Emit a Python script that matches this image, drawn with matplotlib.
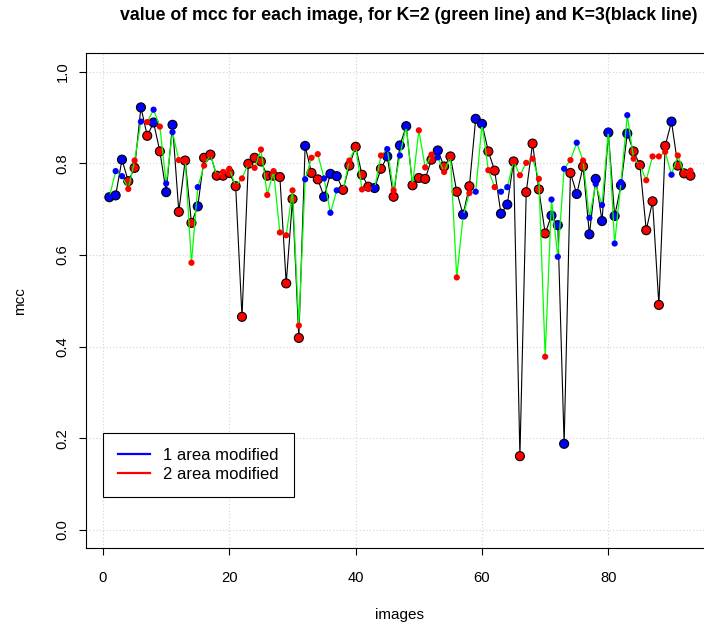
import numpy as np
import matplotlib
matplotlib.use('Agg')
import matplotlib.pyplot as plt
from matplotlib.lines import Line2D

matplotlib.rcParams['font.family'] = ['Liberation Sans', 'DejaVu Sans']

# mcc per image, K=3 (black line, big points)
mcc_k3 = [0.726, 0.730, 0.808, 0.761, 0.790, 0.922, 0.860, 0.889, 0.826, 0.737,
          0.884, 0.694, 0.806, 0.670, 0.706, 0.812, 0.819, 0.773, 0.773, 0.779,
          0.750, 0.465, 0.799, 0.812, 0.804, 0.773, 0.773, 0.770, 0.538, 0.722,
          0.419, 0.838, 0.779, 0.765, 0.727, 0.777, 0.772, 0.742, 0.795, 0.836,
          0.775, 0.749, 0.746, 0.788, 0.815, 0.727, 0.839, 0.881, 0.752, 0.768,
          0.766, 0.808, 0.828, 0.793, 0.815, 0.738, 0.688, 0.750, 0.897, 0.886,
          0.826, 0.784, 0.690, 0.710, 0.804, 0.161, 0.737, 0.843, 0.743, 0.647,
          0.686, 0.665, 0.188, 0.779, 0.733, 0.793, 0.645, 0.766, 0.674, 0.867,
          0.685, 0.752, 0.865, 0.826, 0.796, 0.654, 0.717, 0.491, 0.838, 0.891,
          0.795, 0.778, 0.773]

# mcc per image, K=2 (green line, small points)
mcc_k2 = [0.726, 0.783, 0.772, 0.744, 0.806, 0.891, 0.890, 0.917, 0.880, 0.756,
          0.868, 0.807, 0.806, 0.583, 0.748, 0.795, 0.819, 0.773, 0.781, 0.788,
          0.750, 0.767, 0.799, 0.790, 0.830, 0.731, 0.783, 0.649, 0.643, 0.741,
          0.446, 0.765, 0.812, 0.820, 0.767, 0.692, 0.741, 0.742, 0.806, 0.836,
          0.743, 0.745, 0.746, 0.817, 0.831, 0.741, 0.817, 0.881, 0.752, 0.872,
          0.791, 0.819, 0.813, 0.781, 0.815, 0.551, 0.685, 0.735, 0.738, 0.886,
          0.785, 0.748, 0.738, 0.748, 0.804, 0.774, 0.801, 0.810, 0.766, 0.378,
          0.721, 0.596, 0.788, 0.807, 0.845, 0.806, 0.681, 0.755, 0.709, 0.871,
          0.625, 0.759, 0.905, 0.810, 0.796, 0.763, 0.815, 0.815, 0.825, 0.775,
          0.817, 0.778, 0.784]

# number of modified areas per image
areas = [1, 1, 1, 2, 2, 1, 2, 1, 2, 1,
         1, 2, 2, 2, 1, 2, 2, 2, 2, 2,
         2, 2, 2, 2, 2, 2, 2, 2, 2, 2,
         2, 1, 2, 2, 1, 1, 1, 2, 2, 2,
         2, 2, 1, 2, 1, 2, 1, 1, 2, 2,
         2, 2, 1, 2, 2, 2, 1, 2, 1, 1,
         2, 2, 1, 1, 2, 2, 2, 2, 2, 2,
         1, 1, 1, 2, 1, 2, 1, 1, 1, 1,
         1, 1, 1, 2, 2, 2, 2, 2, 2, 1,
         2, 2, 2]

legend_labels = ['1 area modified', '2 area modified']
area_colors = {1: '#0000FF', 2: '#FF0000'}

images = np.arange(1, len(mcc_k3) + 1)
cols = [area_colors[a] for a in areas]

W, H = 704, 628
fig = plt.figure(figsize=(W / 100, H / 100), dpi=100)
# plot region runs past the right edge of the picture, as in the reference
ax = fig.add_axes([86.1 / W, (H - 548.3) / H, 627.6 / W, 495 / H])

ax.plot(images, mcc_k3, color='black', lw=0.8, zorder=2)
ax.scatter(images, mcc_k3, s=42, c=cols, edgecolors='black', linewidths=0.8, zorder=3)
ax.plot(images, mcc_k2, color='#00FF00', lw=0.9, zorder=4)
ax.scatter(images, mcc_k2, s=20, c=cols, edgecolors='none', zorder=5)

ax.set_xlim(-2.68, 96.68)
ax.set_ylim(-0.04, 1.04)
ax.set_xticks([0, 20, 40, 60, 80])
ax.set_yticks([0.0, 0.2, 0.4, 0.6, 0.8, 1.0])
ax.set_yticklabels(['0.0', '0.2', '0.4', '0.6', '0.8', '1.0'], rotation=90, va='center')
ax.grid(True, color='lightgray', linestyle=(0, (1, 2)), linewidth=0.8, zorder=0)
ax.set_axisbelow(True)

for s in ax.spines.values():
    s.set_linewidth(0.8)
    s.set_color('black')
ax.tick_params(axis='both', length=5, width=0.8, labelsize=10.6, colors='black')
ax.tick_params(axis='x', pad=11)
ax.tick_params(axis='y', pad=7)

ax.set_xlabel('images', fontsize=11)
ax.xaxis.set_label_coords(0.5, (548.3 - 615) / 495)
ax.xaxis.label.set_va('center')
ax.set_ylabel('mcc', fontsize=11)
ax.yaxis.set_label_coords((20 - 86.1) / 627.6, 0.5)
ax.yaxis.label.set_va('center')

ax.text((409 - 86.1) / 627.6, (548.3 - 15) / 495,
        'value of mcc for each image, for K=2 (green line) and K=3(black line)',
        transform=ax.transAxes, ha='center', va='center',
        fontsize=12.8, fontweight='bold')

handles = [Line2D([], [], color=area_colors[1], lw=1.6),
           Line2D([], [], color=area_colors[2], lw=1.6)]
leg = ax.legend(handles, legend_labels, loc='lower left',
                bbox_to_anchor=((103 - 86.1) / 627.6, (548.3 - 497) / 495),
                borderaxespad=0, fancybox=False, framealpha=1, edgecolor='black',
                fontsize=12, handlelength=1.9, handletextpad=0.8, borderpad=0.9,
                labelspacing=0.25)
leg.get_frame().set_linewidth(0.8)

fig.savefig('out.png', dpi=100)
